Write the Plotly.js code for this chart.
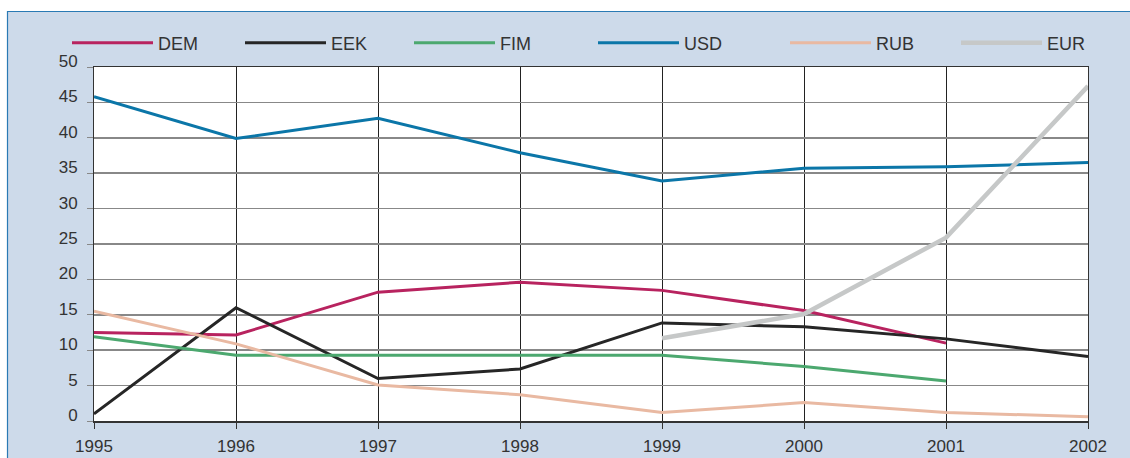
<!DOCTYPE html>
<html>
<head>
<meta charset="utf-8">
<script src="https://cdn.plot.ly/plotly-3.0.1.min.js"></script>
<style>html,body{margin:0;padding:0;background:#fff;}#chart{width:1130px;height:458px;}</style>
</head>
<body>
<div id="chart"></div>
<script>
var years = [1995, 1996, 1997, 1998, 1999, 2000, 2001, 2002];
var DEM = [12.5, 12.15, 18.2, 19.6, 18.45, 15.6, 11.0, null];
var EEK = [1.0, 16.0, 6.0, 7.35, 13.85, 13.3, 11.6, 9.1];
var FIM = [11.9, 9.3, 9.3, 9.3, 9.3, 7.7, 5.65, null];
var USD = [45.8, 39.9, 42.75, 37.9, 33.9, 35.7, 35.9, 36.5];
var RUB = [15.5, 10.9, 5.1, 3.7, 1.2, 2.6, 1.2, 0.6];
var EUR = [null, null, null, null, 11.7, 15.1, 25.9, 47.3];
var yTicks = [0, 5, 10, 15, 20, 25, 30, 35, 40, 45, 50];

var seriesNames = ['DEM', 'EEK', 'FIM', 'USD', 'RUB', 'EUR'];
var seriesData = [DEM, EEK, FIM, USD, RUB, EUR];
var colors = ['#B8235F', '#262626', '#4CA86F', '#0B76A8', '#E9B9A2', '#C6C8C8'];
var widths = [3, 3, 3, 3, 3, 4.5];
var legendLeftPx = [67, 240, 409, 593, 785, 956];

var L = 94, R = 1088, T = 67, B = 421;
function px2x(p) { return (p - L) / (R - L); }
function px2y(p) { return (B - p) / (B - T); }

var traces = seriesNames.map(function (n, i) {
  return {
    x: years, y: seriesData[i], name: n, type: 'scatter', mode: 'lines',
    line: {color: colors[i], width: widths[i]},
    legend: i === 0 ? 'legend' : 'legend' + (i + 1),
    hoverinfo: 'x+y+name'
  };
});

var font = {family: 'Liberation Sans, Arial, sans-serif', size: 17, color: '#333333'};
var legFont = {family: 'Liberation Sans, Arial, sans-serif', size: 18, color: '#333333'};
var layout = {
  width: 1130, height: 458,
  margin: {l: L, r: 1130 - R, t: T, b: 458 - B},
  paper_bgcolor: '#CDDAEA',
  plot_bgcolor: '#FFFFFF',
  font: font,
  showlegend: true,
  xaxis: {
    range: [1995, 2002], tickmode: 'array', tickvals: years, ticktext: years.map(String),
    showgrid: true, gridcolor: '#222222', gridwidth: 1,
    showline: true, linecolor: '#333333', linewidth: 1.5, mirror: true,
    ticks: 'outside', ticklen: 6, tickcolor: '#333333', tickwidth: 1,
    zeroline: false, ticklabelstandoff: 3, tickfont: font
  },
  yaxis: {
    range: [0, 50], tickmode: 'array', tickvals: yTicks, ticktext: yTicks.map(String),
    showgrid: true, gridcolor: '#888888', gridwidth: 1.5,
    showline: true, linecolor: '#333333', linewidth: 1, mirror: true,
    ticks: 'outside', ticklen: 6, tickcolor: '#888888', tickwidth: 1,
    zeroline: false, ticklabelstandoff: 6, ticklabelshift: -6, tickfont: font
  },
  shapes: [
    {type: 'rect', xref: 'paper', yref: 'paper', layer: 'below',
     x0: -0.2, x1: 1.2, y0: px2y(11), y1: px2y(-10), fillcolor: '#FFFFFF', line: {width: 0}},
    {type: 'rect', xref: 'paper', yref: 'paper', layer: 'below',
     x0: px2x(-10), x1: px2x(7), y0: -0.3, y1: 1.3, fillcolor: '#FFFFFF', line: {width: 0}},
    {type: 'line', xref: 'paper', yref: 'paper', layer: 'below',
     x0: px2x(7), x1: px2x(1140), y0: px2y(11.5), y1: px2y(11.5), line: {color: '#2A7AB4', width: 1.2}},
    {type: 'line', xref: 'paper', yref: 'paper', layer: 'below',
     x0: px2x(7.5), x1: px2x(7.5), y0: px2y(11), y1: px2y(470), line: {color: '#2A7AB4', width: 1.2}}
  ]
};
seriesNames.forEach(function (n, i) {
  var key = i === 0 ? 'legend' : 'legend' + (i + 1);
  layout[key] = {
    orientation: 'h', x: px2x(legendLeftPx[i]), y: px2y(43), xanchor: 'left', yanchor: 'middle',
    bgcolor: 'rgba(0,0,0,0)', borderwidth: 0, font: legFont, itemwidth: 81
  };
});

Plotly.newPlot('chart', traces, layout, {displayModeBar: false, staticPlot: true});
</script>
</body>
</html>
